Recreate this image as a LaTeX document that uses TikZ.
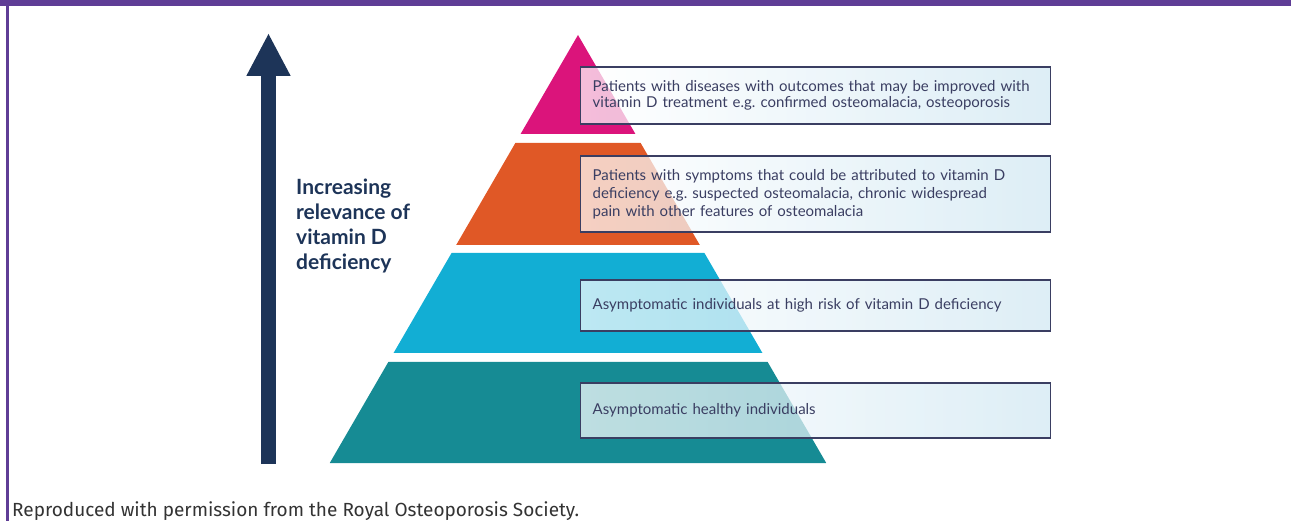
\documentclass[tikz,border=0pt]{standalone}
\usepackage{fontspec}
\setmainfont{Lato}
\newfontfamily\creditfont{Fira Sans}
\usetikzlibrary{arrows.meta}
\definecolor{mPurple}{HTML}{5F3D96}
\definecolor{mNavy}{HTML}{1D3458}
\definecolor{mInk}{HTML}{3A3E62}
\definecolor{mPink}{HTML}{DB147B}
\definecolor{mOrange}{HTML}{E05826}
\definecolor{mCyan}{HTML}{12AED4}
\definecolor{mTeal}{HTML}{168B94}
\definecolor{mIce}{HTML}{D0E7F2}
\frenchspacing

\begin{document}
\begin{tikzpicture}[x=1pt, y=-1pt,
    infobox/.style={draw=mInk, line width=1.4pt, left color=white, right color=mIce,
      fill opacity=0.72, text opacity=1, text=mInk, font=\fontsize{15}{16}\selectfont,
      align=left, anchor=west, text width=446pt, inner xsep=12pt, inner ysep=0pt}]
  \useasboundingbox (0,0) rectangle (1291,521);
  \fill[mPurple] (0,0) rectangle (1291,6);
  \fill[mPurple] (6,0) rectangle (8.5,521);

  \foreach \t/\b/\c in {35/134/mPink, 143/245/mOrange, 253/353/mCyan, 362/463/mTeal}
    \fill[\c] ({578-0.58*(\t-35)},\t) -- ({578+0.58*(\t-35)},\t)
      -- ({578+0.58*(\b-35)},\b) -- ({578-0.58*(\b-35)},\b) -- cycle;

  \coordinate (foot) at (268.5,464);
  \coordinate (tip) at (268.5,33);
  \draw[mNavy, line width=15pt, -{Triangle[width=41pt,length=43pt]}] (foot) -- (tip);
  \node[anchor=north west, inner sep=0pt, align=left, text=mNavy,
    font=\bfseries\fontsize{21}{24.8}\selectfont] (relevance) at (296,179)
    {Increasing\\relevance of\\vitamin D\\deficiency};

  \node[infobox, minimum height=57pt] (disease) at (580,95.5)
    {Patients with diseases with outcomes that may be improved with\\
     vitamin D treatment e.g. confirmed osteomalacia, osteoporosis};
  \node[infobox, minimum height=76pt, font=\fontsize{15}{18}\selectfont] (symptoms) at (580,194)
    {Patients with symptoms that could be attributed to vitamin D\\
     deficiency e.g. suspected osteomalacia, chronic widespread\\
     pain with other features of osteomalacia};
  \node[infobox, minimum height=51pt] (risk) at (580,305.5)
    {Asymptomatic individuals at high risk of vitamin D deficiency};
  \node[infobox, minimum height=55pt] (healthy) at (580,410.5)
    {Asymptomatic healthy individuals};

  \node[anchor=base west, inner sep=0pt, text=black!80,
    font=\creditfont\fontsize{19}{22}\selectfont] (credit) at (12,516)
    {Reproduced with permission from the Royal Osteoporosis Society.};
\end{tikzpicture}
\end{document}
